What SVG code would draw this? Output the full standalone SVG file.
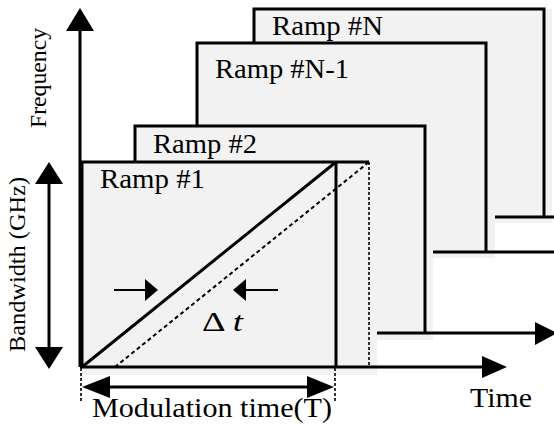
<svg xmlns="http://www.w3.org/2000/svg" width="554" height="426" viewBox="0 0 554 426">
<style>
.fill{fill:#f2f2f2;stroke:none}
.edge{fill:none;stroke:#000;stroke-width:3;stroke-linejoin:miter}
.ln{stroke:#000;stroke-width:3;fill:none}
.thin{stroke:#000;stroke-width:2;fill:none}
.dash{stroke:#000;stroke-width:2;stroke-dasharray:4 3;fill:none}
.dot{stroke:#000;stroke-width:1.6;stroke-dasharray:3 2;fill:none}
.head{fill:#000;stroke:none}
.lbl{font-family:"Liberation Serif","Times New Roman",serif;font-size:28px;fill:#000}
.vl{font-family:"Liberation Serif","Times New Roman",serif;font-size:24px;fill:#000}
</style>
<rect width="554" height="426" fill="#fff"/>
<g id="rampN">
<rect class="fill" x="254" y="9" width="298" height="214"/>
<polyline class="edge" points="254,43 254,9 544,9 544,217"/>
<line class="ln" x1="254" y1="217" x2="554" y2="217"/>
<text class="lbl" x="272" y="35" textLength="111" lengthAdjust="spacingAndGlyphs">Ramp #N</text>
</g>
<g id="rampN-1">
<rect class="fill" x="197" y="43" width="298" height="215"/>
<polyline class="edge" points="197,126 197,43 486,43 486,252"/>
<line class="ln" x1="197" y1="252" x2="554" y2="252"/>
<text class="lbl" x="215" y="78" textLength="134" lengthAdjust="spacingAndGlyphs">Ramp #N-1</text>
</g>
<g id="ramp2">
<rect class="fill" x="135" y="126" width="298" height="214"/>
<polyline class="edge" points="135,162 135,126 425,126 425,333"/>
<text class="lbl" x="153" y="153" textLength="104" lengthAdjust="spacingAndGlyphs">Ramp #2</text>
</g>
<g id="ramp1-delayed">
<rect class="fill" x="82" y="162" width="295" height="213"/>
</g>
<g id="ramp1">
<rect class="fill" x="82" y="162" width="262" height="213"/>
<polyline class="edge" points="82,367 82,162 369,162"/>
<line class="ln" x1="336" y1="162" x2="336" y2="367"/>
<line class="ln" x1="82" y1="367" x2="336" y2="162" stroke-width="2.6"/>
<text class="lbl" x="100" y="188" textLength="105" lengthAdjust="spacingAndGlyphs">Ramp #1</text>
</g>
<g id="ramp1-delayed-lines">
<line class="dash" x1="115" y1="367" x2="369" y2="162"/>
<line class="dot" x1="369" y1="162" x2="369" y2="367"/>
</g>
<g id="connectors">
<line class="ln" x1="80" y1="30" x2="80" y2="367"/>
<polygon class="head" points="80,8 66,31 94,31"/>
<line class="ln" x1="80" y1="367" x2="485" y2="367"/>
<polygon class="head" points="507,367 482,356 482,378"/>
<line class="ln" x1="377" y1="333" x2="537" y2="333"/>
<polygon class="head" points="557,333 535,322 535,345"/>
<line class="ln" x1="49" y1="182" x2="49" y2="349"/>
<polygon class="head" points="49,162 35,184 63,184"/>
<polygon class="head" points="49,369 35,347 63,347"/>
<line class="dot" x1="81" y1="368" x2="81" y2="403"/>
<line class="dot" x1="335" y1="368" x2="335" y2="403"/>
<line class="ln" x1="105" y1="387" x2="310" y2="387"/>
<polygon class="head" points="82,387 110,376 110,398"/>
<polygon class="head" points="334,387 307,376 307,398"/>
<line class="thin" x1="114" y1="290" x2="147" y2="290"/>
<polygon class="head" points="158,290 145,279 145,301"/>
<line class="thin" x1="245" y1="290" x2="278" y2="290"/>
<polygon class="head" points="233,290 246,279 246,301"/>
</g>
<g id="labels">
<text class="vl" transform="translate(46,128) rotate(-90)" textLength="100" lengthAdjust="spacingAndGlyphs">Frequency</text>
<text class="vl" transform="translate(25,352) rotate(-90)" textLength="175" lengthAdjust="spacingAndGlyphs">Bandwidth (GHz)</text>
<text class="lbl" x="92" y="417" font-size="30" textLength="240" lengthAdjust="spacingAndGlyphs">Modulation time(T)</text>
<text class="lbl" x="470" y="407" font-size="29" textLength="62" lengthAdjust="spacingAndGlyphs">Time</text>
<text class="lbl" x="202" y="331" font-size="28" textLength="41" lengthAdjust="spacingAndGlyphs">Δ <tspan font-style="italic">t</tspan></text>
</g>
</svg>
